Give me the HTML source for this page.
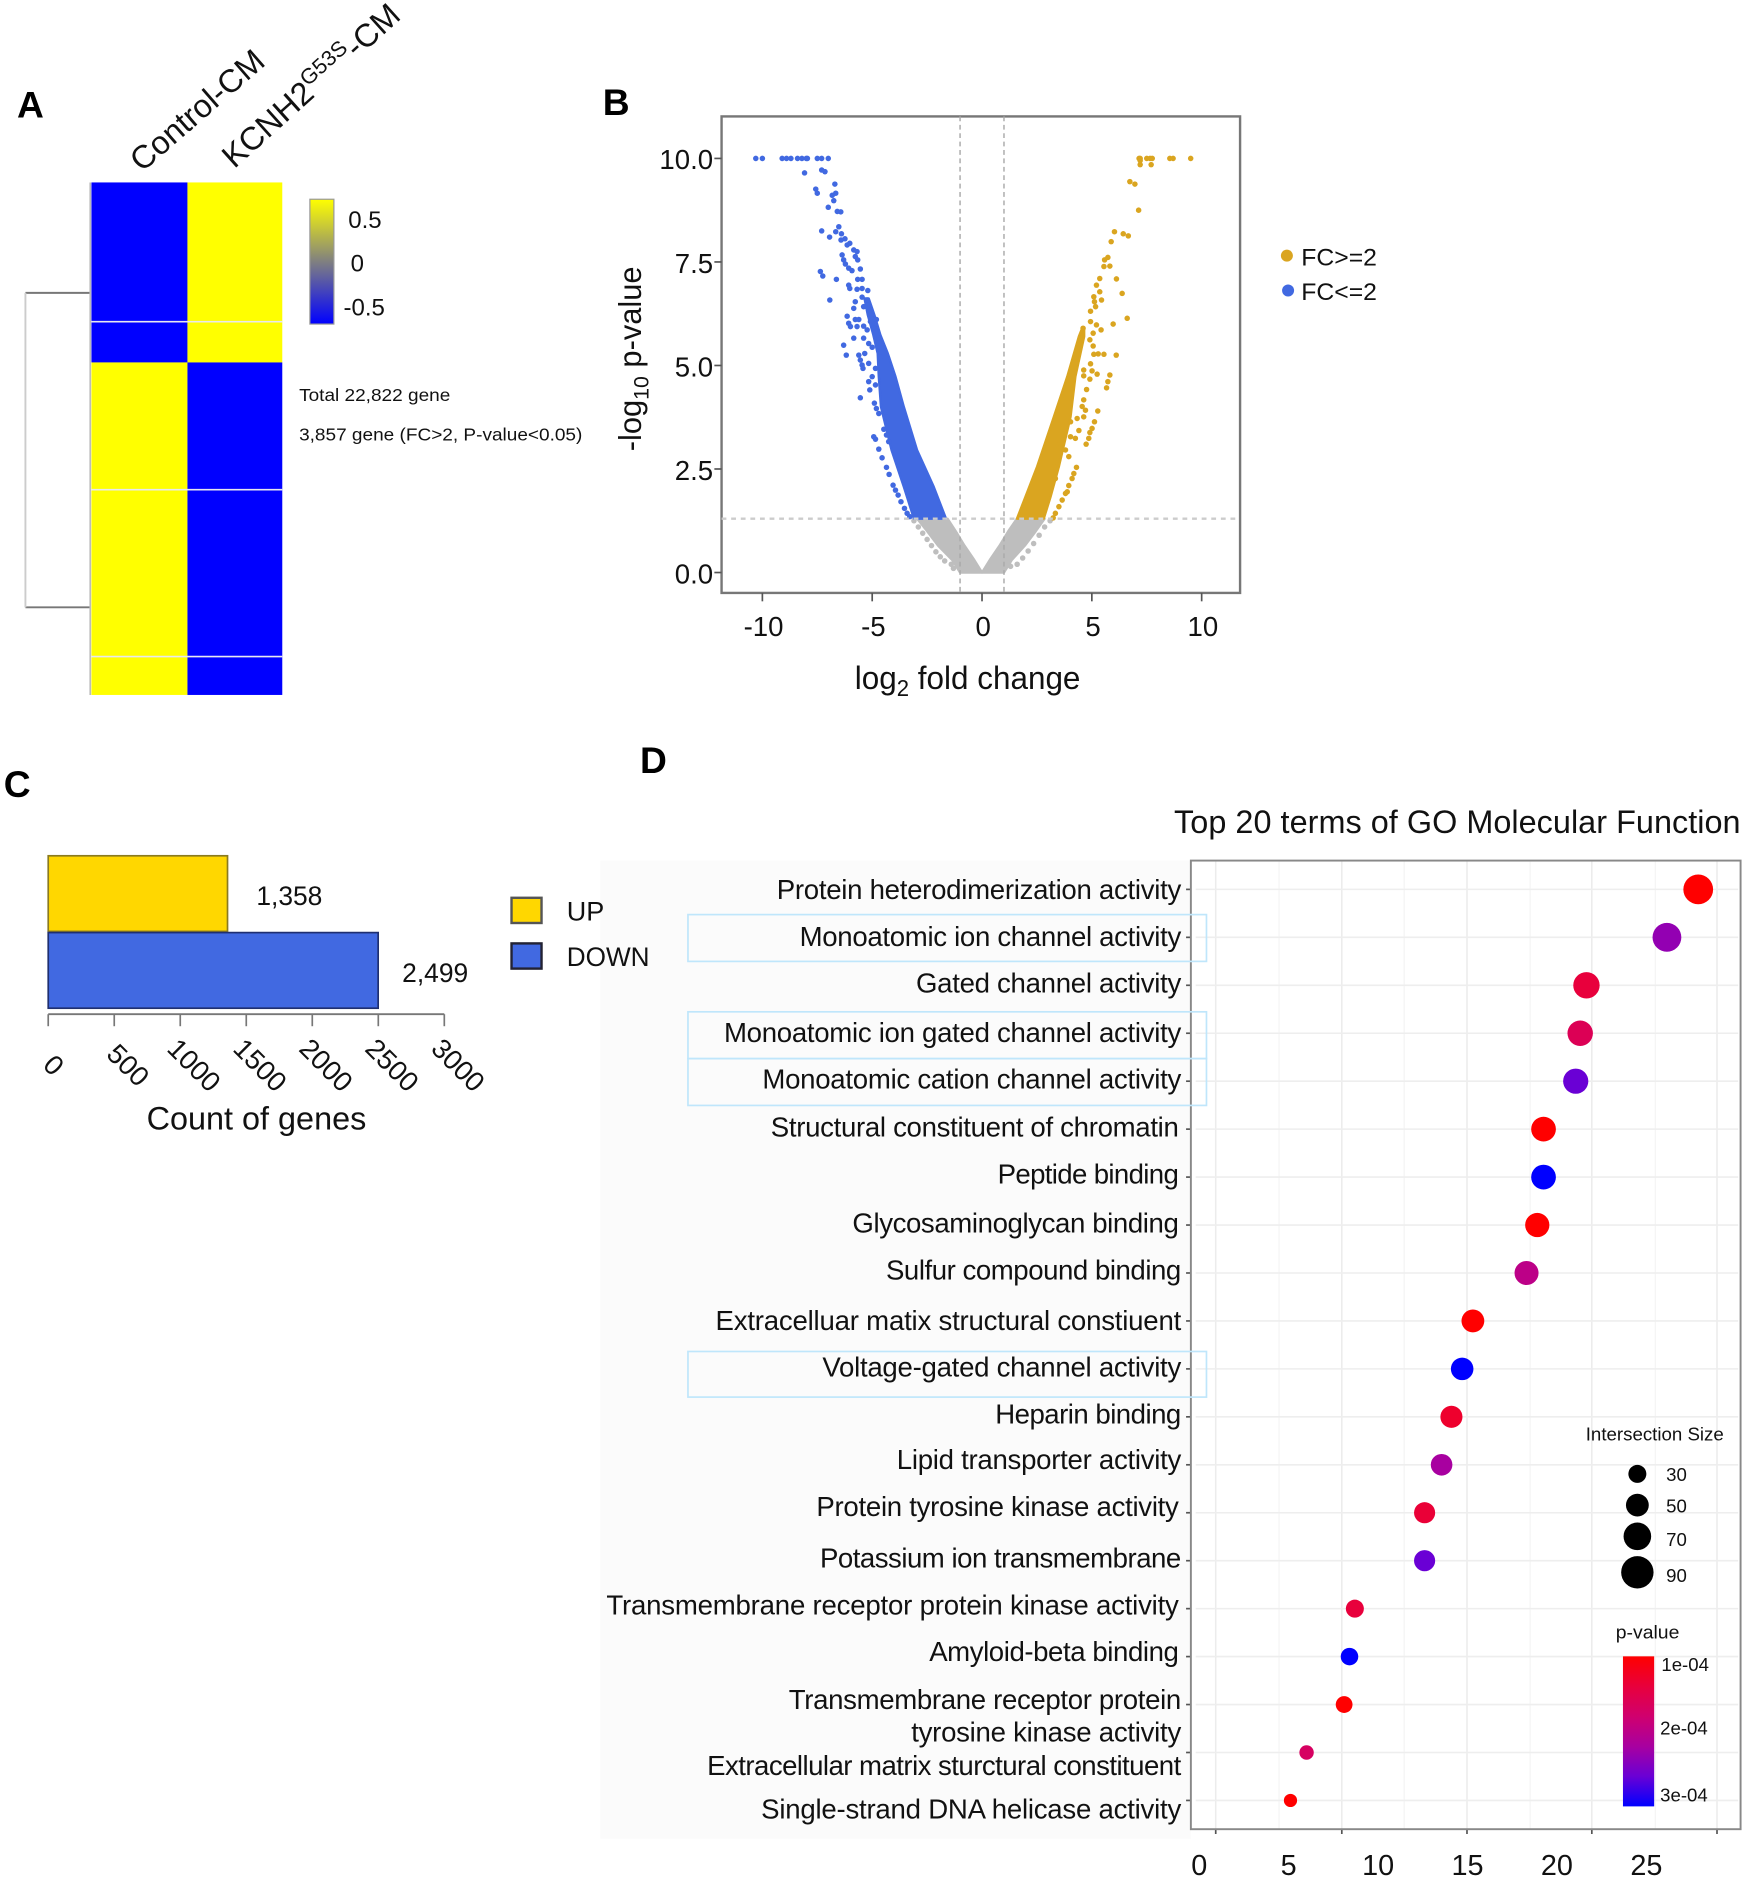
<!DOCTYPE html>
<html lang="en">
<head>
<meta charset="utf-8">
<title>Transcriptome figure panels A-D</title>
<style>
html,body{margin:0;padding:0;background:#fff;}
svg{display:block;}
text{font-family:"Liberation Sans",sans-serif;fill:#111;}
.lab{font-size:23px;text-anchor:end;}
.hl{fill:none;stroke:#bfe6fb;stroke-width:1.4;}
.let{font-size:31px;font-weight:bold;fill:#000;}
</style>
</head>
<body>
<svg id="fig" xmlns="http://www.w3.org/2000/svg" width="1748" height="1882" viewBox="0 0 1456 1568">
<defs>
<linearGradient id="heatGrad" x1="0" y1="0" x2="0" y2="1"><stop offset="0" stop-color="#ffff00"/><stop offset="0.5" stop-color="#808080"/><stop offset="1" stop-color="#0000ff"/></linearGradient>
<linearGradient id="pGrad" x1="0" y1="0" x2="0" y2="1"><stop offset="0" stop-color="#ff0000"/><stop offset="0.2" stop-color="#e8003c"/><stop offset="0.4" stop-color="#d0006e"/><stop offset="0.6" stop-color="#a800a0"/><stop offset="0.8" stop-color="#6a00d5"/><stop offset="1" stop-color="#0000ff"/></linearGradient>
</defs>
<rect x="0" y="0" width="1456" height="1568" fill="#fff"/>

<text class="let" x="14" y="98">A</text>
<text class="let" x="502" y="96">B</text>
<text class="let" x="3" y="664">C</text>
<text class="let" x="533" y="644">D</text>

<!-- Panel A static -->
<g id="panelA">
<text transform="translate(118,144) rotate(-41)" font-size="27">Control-CM</text>
<text transform="translate(195,141) rotate(-42)" font-size="27">KCNH2<tspan font-size="18" dy="-10">G53S</tspan><tspan dy="10">-CM</tspan></text>
<path d="M75 244H21M21 506H75" stroke="#777" stroke-width="1.6" fill="none"/>
<path d="M21 244V506" stroke="#ccc" stroke-width="1.6" fill="none"/>
<path d="M75 152V579" stroke="#bbb" stroke-width="1.4" fill="none"/>
<rect x="258" y="166" width="20" height="104" fill="url(#heatGrad)" stroke="#999" stroke-width="1"/>
<text x="290" y="190" font-size="20">0.5</text>
<text x="292" y="226" font-size="20">0</text>
<text x="286" y="263" font-size="20">-0.5</text>
<text x="249" y="334" font-size="14.5" textLength="126" lengthAdjust="spacingAndGlyphs">Total 22,822 gene</text>
<text x="249" y="367" font-size="14.5" textLength="236" lengthAdjust="spacingAndGlyphs">3,857 gene (FC&gt;2, P-value&lt;0.05)</text>
</g>

<!-- Panel B static -->
<g id="panelB">
<rect x="601" y="97" width="432" height="397" fill="#fff" stroke="#777" stroke-width="2"/>
<g id="volcanoMarks"></g>
<text transform="translate(534,376) rotate(-90)" font-size="26" textLength="154" lengthAdjust="spacingAndGlyphs">-log<tspan font-size="18" dy="6">10</tspan><tspan dy="-6"> p-value</tspan></text>
<text x="712" y="574" font-size="27" textLength="188" lengthAdjust="spacingAndGlyphs">log<tspan font-size="19" dy="6">2</tspan><tspan dy="-6"> fold change</tspan></text>
<circle cx="1072" cy="213" r="5" fill="#DAA520"/>
<text x="1084" y="221" font-size="20" textLength="63" lengthAdjust="spacingAndGlyphs">FC&gt;=2</text>
<circle cx="1073" cy="242" r="5" fill="#4169E1"/>
<text x="1084" y="250" font-size="20" textLength="63" lengthAdjust="spacingAndGlyphs">FC&lt;=2</text>
</g>

<!-- Panel D static -->
<g id="panelD">
<rect x="500" y="717" width="492" height="815" fill="#fbfbfb"/>
<text x="978" y="694" font-size="27" textLength="472" lengthAdjust="spacing">Top 20 terms of GO Molecular Function</text>
<g id="dotMarks"></g>
<rect x="992" y="717" width="458" height="807" fill="none" stroke="#888" stroke-width="1.6"/>
<rect class="hl" x="573" y="762" width="432" height="39"/>
<rect class="hl" x="573" y="843" width="432" height="39"/>
<rect class="hl" x="573" y="882" width="432" height="39"/>
<rect class="hl" x="573" y="1126" width="432" height="38"/>
<text class="lab" x="984" y="749" textLength="337" lengthAdjust="spacing">Protein heterodimerization activity</text>
<text class="lab" x="984" y="788" textLength="318" lengthAdjust="spacing">Monoatomic ion channel activity</text>
<text class="lab" x="984" y="827" textLength="221" lengthAdjust="spacing">Gated channel activity</text>
<text class="lab" x="984" y="868" textLength="381" lengthAdjust="spacing">Monoatomic ion gated channel activity</text>
<text class="lab" x="984" y="907" textLength="349" lengthAdjust="spacing">Monoatomic cation channel activity</text>
<text class="lab" x="982" y="947" textLength="340" lengthAdjust="spacing">Structural constituent of chromatin</text>
<text class="lab" x="982" y="986" textLength="151" lengthAdjust="spacing">Peptide binding</text>
<text class="lab" x="982" y="1027" textLength="272" lengthAdjust="spacing">Glycosaminoglycan binding</text>
<text class="lab" x="984" y="1066" textLength="246" lengthAdjust="spacing">Sulfur compound binding</text>
<text class="lab" x="984" y="1108" textLength="388" lengthAdjust="spacing">Extracelluar matix structural constiuent</text>
<text class="lab" x="984" y="1147" textLength="299" lengthAdjust="spacing">Voltage-gated channel activity</text>
<text class="lab" x="984" y="1186" textLength="155" lengthAdjust="spacing">Heparin binding</text>
<text class="lab" x="984" y="1224" textLength="237" lengthAdjust="spacing">Lipid transporter activity</text>
<text class="lab" x="982" y="1263" textLength="302" lengthAdjust="spacing">Protein tyrosine kinase activity</text>
<text class="lab" x="984" y="1306" textLength="301" lengthAdjust="spacing">Potassium ion transmembrane</text>
<text class="lab" x="982" y="1345" textLength="477" lengthAdjust="spacing">Transmembrane  receptor protein  kinase activity</text>
<text class="lab" x="982" y="1384" textLength="208" lengthAdjust="spacing">Amyloid-beta binding</text>
<text class="lab" x="984" y="1424" textLength="327" lengthAdjust="spacing">Transmembrane  receptor protein</text>
<text class="lab" x="984" y="1451" textLength="225" lengthAdjust="spacing">tyrosine kinase activity</text>
<text class="lab" x="984" y="1479" textLength="395" lengthAdjust="spacing">Extracellular matrix sturctural constituent</text>
<text class="lab" x="984" y="1515" textLength="350" lengthAdjust="spacing">Single-strand DNA helicase activity</text>
<text x="1321" y="1200" font-size="15.5" textLength="115" lengthAdjust="spacingAndGlyphs">Intersection Size</text>
<text x="1346" y="1365" font-size="15.5" textLength="53" lengthAdjust="spacingAndGlyphs">p-value</text>
<rect x="1352" y="1380" width="26" height="125" fill="url(#pGrad)"/>
<text x="1384" y="1392" font-size="15.5">1e-04</text>
<text x="1383" y="1445" font-size="15.5">2e-04</text>
<text x="1383" y="1501" font-size="15.5">3e-04</text>
</g>

<!-- Panel C static (drawn after D so its legend sits above the label background) -->
<g id="panelC">
<rect x="426" y="748" width="25" height="21" fill="#FFD700" stroke="#555" stroke-width="2"/>
<text x="472" y="767" font-size="22.5">UP</text>
<rect x="426" y="786" width="25" height="21" fill="#4169E1" stroke="#223" stroke-width="2"/>
<text x="472" y="805" font-size="22.5" textLength="69" lengthAdjust="spacingAndGlyphs">DOWN</text>
<text x="122" y="941" font-size="27" textLength="183" lengthAdjust="spacingAndGlyphs">Count  of  genes</text>
</g>
</svg>

<script>
// ---- Panel A data ----
const heatColumns = ['Control-CM', 'KCNH2-CM'];
const heatGeneCounts = [1048, 307, 958, 1256, 289];
const heatControl = [-0.7, -0.7, 0.7, 0.7, 0.7];
const heatMutant = [0.7, 0.7, -0.7, -0.7, -0.7];

// ---- Panel B data: individually resolved points ----
const volcanoXTicks = [-10, -5, 0, 5, 10];
const volcanoYTicks = [0, 2.5, 5, 7.5, 10];
const downX = [-10.3,-10,-9.1,-8.9,-8.7,-8.4,-8.2,-8,-7.95,-7.5,-7.3,-7,-8.08,-7.3,-7.15,-6.7,-7.57,-7.5,-6.82,-6.66,-6.75,-7,-6.59,-6.43,-6.52,-7.3,-6.66,-6.94,-6.4,-6.24,
-6.42,-6.14,-6.02,-5.84,-5.69,-5.77,-5.66,-6.37,-6.30,-6.22,-6.07,-5.92,-5.54,-7.36,-7.25,-6.63,-6.07,-6.02,-5.66,-5.46,-5.69,-5.46,-5.20,-6.93,-5.46,-5.23,-5.77,-5.84,-5.39,-5.08,-6.14,-5.77,-5.61,-6.07,-5.99,-5.69,-5.39,-5.08,-4.81,-5.23,-4.93,-5.84,-5.39,-5.16,-5.00,-4.70,-6.30,-6.18,-5.61,-5.34,-5.54,-5.46,-5.42,-5.16,-4.63,-4.85,-5.00,-5.16,-5.11,-4.85,-5.54,-4.90,-4.81,-4.70,-4.35,-4.93,-4.85,-4.70,-4.55,-4.35,-4.23,-4.05,-3.94,-3.82,-3.69,-3.53,-3.41,-3.29,-4.47,-4.35,-4.25];
const downY = [10,10,10,10,10,10,10,10,10,10,10,10,9.65,9.72,9.68,9.38,9.26,9.16,9.11,9.16,8.98,8.82,8.72,8.71,8.35,8.25,8.23,8.1,8.18,8.06,
8.03,7.91,7.95,7.79,7.75,7.63,7.55,7.67,7.55,7.45,7.35,7.29,7.33,7.27,7.16,7.08,6.94,6.86,7.08,7.08,6.84,6.86,6.81,6.58,6.65,6.58,6.54,6.38,6.42,6.34,6.19,6.11,6.11,6.02,5.94,5.94,5.95,6.06,6.11,5.86,5.90,5.66,5.66,5.53,5.44,5.66,5.49,5.25,5.25,5.29,5.13,5.01,4.93,5.05,5.21,4.93,4.73,4.61,4.41,4.53,4.22,4.09,3.96,3.84,3.76,3.28,3.22,2.98,2.77,2.54,2.37,2.11,1.99,1.87,1.71,1.55,1.43,1.35,3.46,3.32,3.16];
const upX = [7.15,7.2,7.5,7.65,7.75,8.55,8.7,9.5,7.2,7.7,7.2,6.73,6.96,7.13,6.03,6.43,6.66,
5.88,5.73,5.58,5.55,5.82,5.36,6.12,5.21,5.36,6.38,5.09,5.12,5.44,5.17,4.94,6.61,4.94,5.21,5.97,5.42,4.60,5.06,4.91,5.06,5.09,5.29,5.55,6.11,4.94,4.63,5.01,5.24,4.63,4.91,5.82,5.73,5.67,4.76,4.63,4.56,5.27,4.71,4.63,4.33,5.12,5.01,4.91,4.41,4.03,4.03,4.25,4.86,4.74,3.95,3.80,4.30,4.10,3.95,3.80,3.65,3.50,3.34,3.24,3.57,3.27,3.34,4.18,3.88];
const upY = [10,10,10,10,10,10,10,10,9.85,9.85,9.95,9.44,9.38,8.75,8.23,8.18,8.13,
7.99,7.61,7.55,7.39,7.40,7.10,7.09,6.94,6.78,6.74,6.66,6.54,6.58,6.42,6.31,6.14,6.06,5.98,6.00,5.86,5.90,5.78,5.62,5.47,5.27,5.28,5.27,5.25,5.04,4.89,4.87,4.79,4.75,4.67,4.77,4.61,4.46,4.42,4.17,4.01,3.90,3.92,3.76,3.72,3.64,3.48,3.38,3.43,3.64,3.28,3.24,3.24,3.10,2.80,2.96,2.54,2.27,2.10,1.91,1.75,1.59,1.43,1.32,3.12,2.56,2.27,2.39,1.95];
const nsX = [-3.1,-2.9,-2.7,-2.5,-2.3,-2.1,-1.9,-1.7,-1.4,-1.3,3.1,2.85,2.6,2.35,2.1,1.85,1.6,1.3];
const nsY = [1.25,1.1,0.95,0.8,0.65,0.5,0.38,0.28,0.2,0.1,1.25,1.1,0.9,0.7,0.52,0.35,0.2,0.15];
// Overplotted masses, read as row envelopes (level, inner x, outer x)
const downLevels = [1.3, 2.07, 2.96, 4.0, 4.73, 5.29, 5.74, 6.22, 6.62];
const downInner = [-1.64, -2.2, -2.96, -3.56, -3.94, -4.29, -4.63, -4.9, -5.16];
const downOuter = [-3.1, -3.56, -4.12, -4.6, -4.7, -4.75, -4.95, -5.2, -5.35];
const upLevels = [1.3, 1.83, 2.56, 3.76, 4.73, 5.7, 5.9];
const upInner = [1.59, 1.98, 2.51, 3.27, 3.88, 4.41, 4.56];
const upOuter = [2.81, 3.12, 3.5, 4.03, 4.25, 4.65, 4.65];
const nsLevels = [0, 0.3, 0.65, 1, 1.3];
const nsLeftInner = [0, -0.35, -0.8, -1.2, -1.57];
const nsLeftOuter = [-1, -1.35, -2, -2.5, -2.95];
const nsRightInner = [0, 0.35, 0.8, 1.2, 1.59];
const nsRightOuter = [1, 1.35, 1.95, 2.45, 2.85];
const foldCutoffs = [-1, 1];
const pCutoff = 1.3;

// ---- Panel C data ----
const barCategories = ['UP', 'DOWN'];
const barCounts = [1358, 2499];
const barTicks = [0, 500, 1000, 1500, 2000, 2500, 3000];

// ---- Panel D data ----
const goTerms = ['Protein heterodimerization activity','Monoatomic ion channel activity','Gated channel activity','Monoatomic ion gated channel activity','Monoatomic cation channel activity','Structural constituent of chromatin','Peptide binding','Glycosaminoglycan binding','Sulfur compound binding','Extracelluar matix structural constiuent','Voltage-gated channel activity','Heparin binding','Lipid transporter activity','Protein tyrosine kinase activity','Potassium ion transmembrane','Transmembrane receptor protein kinase activity','Amyloid-beta binding','Transmembrane receptor protein tyrosine kinase activity','Extracellular matrix sturctural constituent','Single-strand DNA helicase activity'];
const goEnrichment = [27.9,26.15,21.65,21.3,21.05,19.25,19.25,18.9,18.3,15.3,14.7,14.1,13.55,12.6,12.6,8.7,8.4,8.1,6.0,5.1];
const goSize = [79,75,65,61,60,58,58,56,55,50,49,47,45,43,43,30,28,25,15,10];
const goPValue = [0.9,2.37,1.34,1.56,2.66,0.9,3.1,0.9,2.0,0.9,3.1,1.23,2.22,1.3,2.66,1.34,3.1,0.9,1.67,0.9];
const dotAxisTicks = [0, 5, 10, 15, 20, 25];
const dotGridMajor = [0.92, 7.97, 14.97, 21.95, 28.95];
const dotGridMinor = [4.46, 11.46, 18.5, 25.5];
const sizeLegendValues = [30, 50, 70, 90];

const NS = 'http://www.w3.org/2000/svg';
function add(parent, tag, attrs, name) {
  const el = document.createElementNS(NS, tag);
  for (const k in attrs) el.setAttribute(k, attrs[k]);
  
  
  parent.appendChild(el);
  return el;
}
function label(parent, x, y, str, size, anchor, name) {
  const el = add(parent, 'text', {x: x, y: y, 'font-size': size, 'text-anchor': anchor}, name);
  el.textContent = str;
  return el;
}

// ---- Panel A ----
(function () {
  const g = document.getElementById('panelA');
  const hx = [76, 156, 235];
  const top = 152, bottom = 579;
  const total = heatGeneCounts.reduce((a, b) => a + b, 0);
  const color = v => (v > 0 ? '#ffff00' : '#0000ff');
  let acc = 0;
  heatGeneCounts.forEach((n, i) => {
    const y0 = top + acc / total * (bottom - top);
    acc += n;
    const y1 = top + acc / total * (bottom - top);
    add(g, 'rect', {x: hx[0], y: y0, width: hx[1] - hx[0], height: y1 - y0, fill: color(heatControl[i])}, 'heatmap-cell-control-' + i);
    add(g, 'rect', {x: hx[1], y: y0, width: hx[2] - hx[1], height: y1 - y0, fill: color(heatMutant[i])}, 'heatmap-cell-mutant-' + i);
    if (i > 0 && heatControl[i] === heatControl[i - 1]) {
      add(g, 'line', {x1: hx[0], x2: hx[2], y1: y0, y2: y0, stroke: '#e8e8f0', 'stroke-width': 1.4}, 'heatmap-row-separator');
    }
  });
})();

// ---- Panel B ----
(function () {
  const g = document.getElementById('volcanoMarks');
  const axisG = document.getElementById('panelB');
  const X = v => 818 + v * 18.3;
  const Y = v => 477 - v * 34.5;
  const band = (levels, inner, outer, fill, name) => {
    const pts = levels.map((l, i) => X(inner[i]) + ',' + Y(l))
      .concat(levels.map((l, i) => X(outer[i]) + ',' + Y(l)).reverse());
    add(g, 'polygon', {points: pts.join(' '), fill: fill, stroke: fill, 'stroke-width': 2, 'stroke-linejoin': 'round'}, name);
  };
  const dots = (xs, ys, fill, name) => xs.forEach((x, i) => {
    add(g, 'circle', {cx: X(x), cy: Y(ys[i]), r: 2.3, fill: fill}, name);
  });
  band(nsLevels, nsLeftInner, nsLeftOuter, '#BEBEBE', 'volcano-nonsignificant-mass-left');
  band(nsLevels, nsRightInner, nsRightOuter, '#BEBEBE', 'volcano-nonsignificant-mass-right');
  dots(nsX, nsY, '#BEBEBE', 'volcano-point-nonsignificant');
  band(downLevels, downInner, downOuter, '#4169E1', 'volcano-down-mass');
  band(upLevels, upInner, upOuter, '#DAA520', 'volcano-up-mass');
  dots(downX, downY, '#4169E1', 'volcano-point-down');
  dots(upX, upY, '#DAA520', 'volcano-point-up');
  foldCutoffs.forEach(c => {
    add(g, 'line', {x1: X(c), x2: X(c), y1: 97, y2: 494, stroke: '#aaa', 'stroke-width': 1.2, 'stroke-dasharray': '4 3'}, 'fold-change-cutoff-line');
  });
  add(g, 'line', {x1: 601, x2: 1033, y1: Y(pCutoff), y2: Y(pCutoff), stroke: '#ccc', 'stroke-width': 2, 'stroke-dasharray': '4 4'}, 'p-value-cutoff-line');
  volcanoXTicks.forEach(t => {
    add(axisG, 'line', {x1: X(t), x2: X(t), y1: 494, y2: 501, stroke: '#555', 'stroke-width': 1.4}, 'volcano-x-tick');
    label(axisG, X(t) + 1, 530, String(t), 23, 'middle', 'volcano-x-tick-label');
  });
  volcanoYTicks.forEach(t => {
    add(axisG, 'line', {x1: 595, x2: 601, y1: Y(t), y2: Y(t), stroke: '#555', 'stroke-width': 1.4}, 'volcano-y-tick');
    label(axisG, 594, Y(t) + 9, t.toFixed(1), 23, 'end', 'volcano-y-tick-label');
  });
})();

// ---- Panel C ----
(function () {
  const g = document.getElementById('panelC');
  const X = v => 40 + v * 0.11;
  const rowY = [713, 777];
  const fills = ['#FFD700', '#4169E1'];
  const strokes = ['#8a7a20', '#1f2f70'];
  const pads = [24, 20];
  barCounts.forEach((c, i) => {
    add(g, 'rect', {x: X(0), y: rowY[i], width: X(c) - X(0), height: 63, fill: fills[i], stroke: strokes[i], 'stroke-width': 1.4}, 'bar-' + barCategories[i].toLowerCase());
    label(g, X(c) + pads[i], rowY[i] + 41, c.toLocaleString('en-US'), 22, 'start', 'bar-value-' + barCategories[i].toLowerCase());
  });
  add(g, 'line', {x1: X(0), x2: X(3000), y1: 845, y2: 845, stroke: '#777', 'stroke-width': 1.6}, 'bar-x-axis');
  barTicks.forEach(t => {
    add(g, 'line', {x1: X(t), x2: X(t), y1: 845, y2: 855, stroke: '#777', 'stroke-width': 1.4}, 'bar-x-tick');
    const lbl = label(g, 0, 0, String(t), 23, 'middle', 'bar-x-tick-label');
    lbl.setAttribute('transform', 'translate(' + (X(t) + (t === 0 ? -1 : 6)) + ',893) rotate(45)');
  });
})();

// ---- Panel D ----
(function () {
  const g = document.getElementById('dotMarks');
  const panel = document.getElementById('panelD');
  const X = v => 999 + v * 14.9;
  const Y = i => 741 + i * 39.95;
  const R = n => 4.5 + n * 0.1;
  const stops = [[255,0,0],[232,0,60],[208,0,110],[168,0,160],[106,0,213],[0,0,255]];
  const pColor = p => {
    const t = Math.max(0, Math.min(1, (p - 0.9) / 2.2)) * (stops.length - 1);
    const i = Math.min(stops.length - 2, Math.floor(t));
    const f = t - i;
    const c = stops[i].map((s, k) => Math.round(s + (stops[i + 1][k] - s) * f));
    return 'rgb(' + c.join(',') + ')';
  };
  add(g, 'rect', {x: 992, y: 717, width: 458, height: 807, fill: '#fff'}, 'dotplot-panel-background');
  dotGridMinor.forEach(v => {
    add(g, 'line', {x1: X(v), x2: X(v), y1: 717, y2: 1524, stroke: '#f4f4f4', 'stroke-width': 1}, 'grid-line-minor');
  });
  dotGridMajor.forEach(v => {
    add(g, 'line', {x1: X(v), x2: X(v), y1: 717, y2: 1524, stroke: '#ececec', 'stroke-width': 1.3}, 'grid-line-major');
    add(g, 'line', {x1: X(v), x2: X(v), y1: 1524, y2: 1528, stroke: '#555', 'stroke-width': 1.4}, 'dotplot-x-tick');
  });
  goTerms.forEach((term, i) => {
    add(g, 'line', {x1: 996, x2: 1448, y1: Y(i), y2: Y(i), stroke: '#eeeeee', 'stroke-width': 1.3}, 'grid-line-term');
    add(g, 'line', {x1: 988, x2: 992, y1: Y(i), y2: Y(i), stroke: '#555', 'stroke-width': 1.4}, 'dotplot-y-tick');
  });
  goTerms.forEach((term, i) => {
    const dot = add(g, 'circle', {cx: X(goEnrichment[i]), cy: Y(i), r: R(goSize[i]), fill: pColor(goPValue[i])}, 'dot-term-' + (i + 1));
    const tip = document.createElementNS(NS, 'title');
    tip.textContent = term;
    dot.appendChild(tip);
  });
  dotAxisTicks.forEach(t => {
    label(panel, X(t), 1562, String(t), 24, 'middle', 'dotplot-x-tick-label');
  });
  const legendY = [1228, 1254, 1280, 1310];
  sizeLegendValues.forEach((n, i) => {
    add(panel, 'circle', {cx: 1364, cy: legendY[i], r: R(n), fill: '#000'}, 'size-legend-dot-' + n);
    label(panel, 1388, legendY[i] + 6 + (i > 1 ? 2 : 0), String(n), 15.5, 'start', 'size-legend-label-' + n);
  });
})();
</script>
</body>
</html>
